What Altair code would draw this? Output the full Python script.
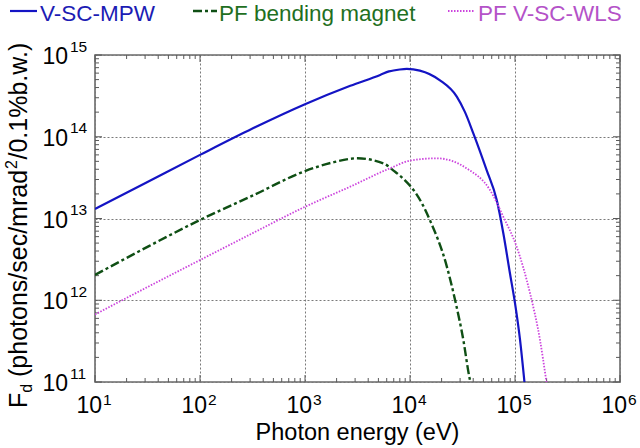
import altair as alt
import pandas as pd

FONT = "Liberation Sans"
W, H = 525, 327

# ---- data ----
series = ["V-SC-MPW", "PF bending magnet", "PF V-SC-WLS"]

mpw_E = [10, 31.6, 100, 316, 1000, 2700, 5200, 6310, 8000, 9330, 12400, 19300, 27900,
         33400, 40100, 53700, 67000, 77400, 89500, 100000, 111700, 123000]
mpw_F = [1.31e13, 2.8e13, 6.0e13, 1.26e14, 2.5e14, 4.2e14, 5.7e14, 6.3e14, 6.65e14,
         6.75e14, 6.45e14, 4.9e14, 3.1e14, 2.0e14, 1.1e14, 3.9e13, 1.68e13, 6.6e12,
         2.14e12, 9.2e11, 3.27e11, 1.0e11]

bm_E = [10, 31.6, 100, 316, 1000, 1780, 3160, 5620, 7080, 8910, 11220, 13180, 15500,
        22400, 26900, 32200, 36700, 37600]
bm_F = [2.04e12, 4.5e12, 9.6e12, 1.9e13, 3.8e13, 4.8e13, 5.45e13, 4.7e13, 3.8e13,
        2.95e13, 2.09e13, 1.48e13, 9.5e12, 2.6e12, 1.0e12, 3.27e11, 1.16e11, 1.0e11]

wls_E = [10, 31.6, 100, 316, 1000, 2690, 6700, 10000, 17950, 34700, 57800, 77400,
         103800, 139000, 173000, 196000, 199500]
wls_F = [6.7e11, 1.45e12, 3.1e12, 6.6e12, 1.39e13, 2.45e13, 4.2e13, 5.1e13, 5.45e13,
         4.1e13, 2.23e13, 1.05e13, 4.5e12, 1.22e12, 3.27e11, 1.16e11, 1.0e11]

x_exp = [1, 2, 3, 4, 5, 6]
y_exp = [11, 12, 13, 14, 15]
x_minor = [m * 10 ** k for k in range(1, 6) for m in range(2, 10)]
y_minor = [m * 10 ** k for k in range(11, 15) for m in range(2, 10)]

x_title = "Photon energy (eV)"
y_title_parts = ["F", "d", "(photons/sec/mrad", "2", "/0.1%b.w.)"]

# ---- styles ----
colors = ["#1414c4", "#0f4f14", "#cc44dd"]
text_colors = ["#1c1cb4", "#1f6f22", "#b452c8"]
dashes = [None, [9, 3, 3, 3], [1.5, 1.5]]
widths = [2.2, 2.4, 1.8]

xscale = alt.Scale(type="log", domain=[10, 1e6], nice=False)
yscale = alt.Scale(type="log", domain=[1e11, 1e15], nice=False)
x_major = [10 ** e for e in x_exp]
y_major = [10 ** e for e in y_exp]

xax = alt.Axis(values=x_major, grid=True, labels=False, ticks=False, domain=False,
               title=None, gridDash=[2, 2], gridColor="#7a7a7a", gridWidth=1)
yax = alt.Axis(values=y_major, grid=True, labels=False, ticks=False, domain=False,
               title=None, gridDash=[2, 2], gridColor="#7a7a7a", gridWidth=1)


def X(f="E"):
    return alt.X(f + ":Q", scale=xscale, axis=xax)


def Y(f="F"):
    return alt.Y(f + ":Q", scale=yscale, axis=yax)


layers = []

# grid carrier
grid_df = pd.DataFrame({"E": [10], "F": [1e11]})
layers.append(alt.Chart(grid_df).mark_point(opacity=0).encode(x=X(), y=Y()))

# inward ticks
TICK = "#5a5a5a"
xmaj_df = pd.DataFrame({"E": x_major})
xmin_df = pd.DataFrame({"E": x_minor})
ymaj_df = pd.DataFrame({"F": y_major})
ymin_df = pd.DataFrame({"F": y_minor})
for df, L in [(xmaj_df, 7), (xmin_df, 4)]:
    layers.append(alt.Chart(df).mark_rule(color=TICK, strokeWidth=1).encode(
        x=X(), y=alt.value(H), y2=alt.value(H - L)))
    layers.append(alt.Chart(df).mark_rule(color=TICK, strokeWidth=1).encode(
        x=X(), y=alt.value(0), y2=alt.value(L)))
for df, L in [(ymaj_df, 7), (ymin_df, 4)]:
    layers.append(alt.Chart(df).mark_rule(color=TICK, strokeWidth=1).encode(
        y=Y(), x=alt.value(0), x2=alt.value(L)))
    layers.append(alt.Chart(df).mark_rule(color=TICK, strokeWidth=1).encode(
        y=Y(), x=alt.value(W), x2=alt.value(W - L)))

# curves
for i, (E, F) in enumerate([(mpw_E, mpw_F), (bm_E, bm_F), (wls_E, wls_F)]):
    df = pd.DataFrame({"E": E, "F": F})
    kw = dict(color=colors[i], strokeWidth=widths[i], interpolate="monotone",
              clip=True, strokeCap="butt")
    if dashes[i]:
        kw["strokeDash"] = dashes[i]
    layers.append(alt.Chart(df).mark_line(**kw).encode(x=X(), y=Y()))

# tick labels
xl_df = pd.DataFrame({"E": x_major, "base": ["10"] * len(x_exp),
                      "exp": [str(e) for e in x_exp]})
yl_df = pd.DataFrame({"F": y_major, "base": ["10"] * len(y_exp),
                      "exp": [str(e) for e in y_exp]})
layers.append(alt.Chart(xl_df).mark_text(align="right", baseline="alphabetic", dx=7,
                                         font=FONT, fontSize=23, color="black").encode(
    x=X(), y=alt.value(357.5), text="base:N"))
layers.append(alt.Chart(xl_df).mark_text(align="left", baseline="alphabetic", dx=8,
                                         font=FONT, fontSize=15.5, color="black").encode(
    x=X(), y=alt.value(350), text="exp:N"))
layers.append(alt.Chart(yl_df).mark_text(align="right", baseline="alphabetic", dy=9,
                                         font=FONT, fontSize=23, color="black").encode(
    y=Y(), x=alt.value(-27), text="base:N"))
layers.append(alt.Chart(yl_df).mark_text(align="left", baseline="alphabetic", dy=-3.5,
                                         font=FONT, fontSize=15.5, color="black").encode(
    y=Y(), x=alt.value(-25), text="exp:N"))

# axis titles
one = pd.DataFrame({"t": [x_title]})
layers.append(alt.Chart(one).mark_text(align="center", baseline="alphabetic",
                                       font=FONT, fontSize=23.5, color="black").encode(
    x=alt.value(W / 2), y=alt.value(385), text="t:N"))
y_pos = [(-68, 353, 25), (-63, 337.7, 16), (-68, 322, 25), (-78, 114, 16),
         (-68, 104.5, 25)]
for txt, (xv, yv, fs) in zip(y_title_parts, y_pos):
    d = pd.DataFrame({"t": [txt]})
    layers.append(alt.Chart(d).mark_text(align="left", baseline="alphabetic", angle=270,
                                         font=FONT, fontSize=fs, color="black").encode(
        x=alt.value(xv), y=alt.value(yv), text="t:N"))

# legend (top)
leg_sym = [(-85, -58), (98, 122), (353, 380)]
leg_txt = [-55, 124, 383]
for i, name in enumerate(series):
    d = pd.DataFrame({"name": [name]})
    kw = dict(color=colors[i], strokeWidth=widths[i], strokeCap="butt")
    if dashes[i]:
        kw["strokeDash"] = dashes[i]
    layers.append(alt.Chart(d).mark_rule(**kw).encode(
        x=alt.value(leg_sym[i][0]), x2=alt.value(leg_sym[i][1]), y=alt.value(-44)))
    layers.append(alt.Chart(d).mark_text(align="left", baseline="alphabetic", font=FONT,
                                         fontSize=22.5, color=text_colors[i]).encode(
        x=alt.value(leg_txt[i]), y=alt.value(-34.5), text="name:N"))

chart = alt.layer(*layers).properties(
    width=W, height=H,
    autosize=alt.AutoSizeParams(type="none"),
    padding={"left": 95, "top": 55, "right": 20, "bottom": 66},
    background="white",
).configure_view(stroke="#6a6a6a", strokeWidth=1.6)

chart.save("out.html", embed_options={"renderer": "svg", "actions": False})
